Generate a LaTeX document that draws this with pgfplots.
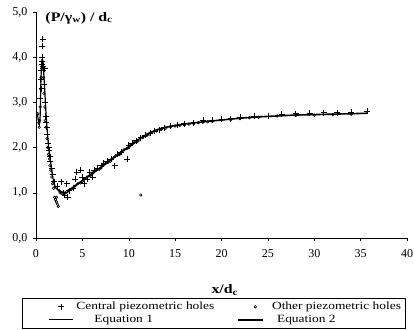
\documentclass[border=0pt]{standalone}
\usepackage{pgfplots}
\pgfplotsset{compat=1.18}
\usepackage{fontspec}
\setmainfont{Liberation Serif}
\newfontfamily\wide{Liberation Serif}[FakeStretch=1.22]

\pgfplotsset{
  legcentral/.style={legend image code/.code={\path (0pt,0pt) (48pt,0pt); \draw[##1] plot coordinates {(35pt,0pt)};}},
  legother/.style={legend image code/.code={\path (0pt,0pt) (36pt,0pt); \draw[##1] plot coordinates {(26pt,0pt)};}},
  legeqone/.style={legend image code/.code={\path (0pt,0pt) (48pt,0pt); \draw[##1] (23pt,0pt) -- (47pt,0pt);}},
  legeqtwo/.style={legend image code/.code={\path (0pt,0pt) (36pt,0pt); \draw[##1] (9pt,0pt) -- (34pt,0pt);}},
}

\pgfplotstableread{
x y
0.5 3.5
0.55 3.7
0.6 3.85
0.65 4.0
0.7 4.25
0.72 4.4
0.7 3.9
0.75 3.8
0.8 3.7
0.95 3.75
0.9 3.4
0.6 3.3
0.45 3.1
1.0 3.0
1.05 2.7
1.1 2.55
1.15 2.45
1.2 2.3
1.3 2.1
1.35 2.0
1.4 1.95
1.5 1.8
1.55 1.7
1.7 1.55
1.8 1.4
1.95 1.25
2.3 1.15
2.7 1.25
2.9 1.0
3.1 0.95
3.4 0.9
3.6 1.05
3.3 1.2
4.0 1.1
4.2 1.3
4.4 1.45
4.8 1.5
5.0 1.35
5.2 1.2
5.5 1.3
5.8 1.45
6.1 1.35
6.3 1.5
6.6 1.55
7.0 1.6
7.3 1.65
7.7 1.7
8.1 1.75
8.5 1.6
8.8 1.85
9.2 1.9
9.8 1.74
10.0 2.05
10.4 2.1
10.8 2.15
11.3 2.22
11.8 2.28
12.3 2.32
12.8 2.37
13.3 2.4
13.8 2.44
14.5 2.47
15.2 2.5
16.0 2.53
17.0 2.55
18.0 2.6
19.0 2.6
20.0 2.63
21.0 2.64
22.0 2.68
23.5 2.7
25.0 2.7
26.5 2.74
28.0 2.75
29.5 2.76
31.0 2.77
32.5 2.77
34.0 2.78
35.7 2.8
}\central

\pgfplotstableread{
x y
0.2 2.75
0.3 2.55
0.35 2.45
0.4 2.6
0.45 2.9
0.5 3.3
0.55 3.55
0.6 3.75
0.65 3.9
0.7 3.8
0.8 3.55
0.85 3.2
0.95 2.9
1.0 2.6
1.1 2.45
1.2 2.2
1.25 2.0
1.35 1.85
1.45 1.75
1.5 1.6
1.6 1.5
1.7 1.35
1.8 1.2
1.9 1.1
2.0 0.9
2.1 0.85
2.2 0.8
2.3 0.75
2.4 0.7
2.2 0.9
2.5 1.05
2.6 1.0
2.8 0.98
3.0 1.0
3.2 1.0
3.5 1.05
3.8 1.08
4.0 1.1
4.2 1.15
4.5 1.2
4.8 1.22
5.0 1.25
5.2 1.3
5.5 1.35
5.8 1.38
6.0 1.4
6.2 1.45
6.5 1.5
6.8 1.52
7.0 1.55
7.2 1.6
7.5 1.65
7.8 1.68
8.0 1.7
8.2 1.75
8.5 1.8
8.8 1.83
9.0 1.85
9.2 1.9
9.5 1.95
9.8 1.98
10.0 2.0
10.2 2.05
10.5 2.1
10.8 2.12
11.0 2.15
11.3 0.95
11.5 2.22
11.8 2.25
12 2.28
12.2 2.3
12.5 2.33
13 2.37
13.5 2.4
14 2.43
14.5 2.46
15 2.48
15.5 2.49
16 2.5
16.5 2.52
17 2.53
17.5 2.55
18 2.56
18.5 2.57
19 2.58
20 2.6
21 2.62
22 2.64
23 2.66
24 2.67
26 2.7
28 2.71
30 2.72
32 2.73
34 2.74
}\other

\pgfplotstableread{
x y
0.15 2.75
0.25 2.6
0.35 2.5
0.45 2.7
0.5 3.2
0.55 3.6
0.65 3.95
0.75 3.9
0.85 3.6
0.95 3.25
1.05 2.85
1.15 2.55
1.3 2.15
1.45 1.85
1.6 1.65
1.75 1.42
1.9 1.25
2.1 1.12
2.4 1.06
2.8 1.02
3.3 1.0
}\eqone

\pgfplotstableread{
x y
3.3 1.0
4 1.12
5 1.27
6 1.42
7 1.56
8 1.72
9 1.87
10 2.02
11 2.17
12 2.3
13 2.39
14 2.45
15 2.49
16 2.52
18 2.57
20 2.61
22 2.65
24 2.68
26 2.7
28 2.72
30 2.73
32 2.74
34 2.75
35.7 2.76
}\eqtwo

\begin{document}
\begin{tikzpicture}
\begin{axis}[
  scale only axis, width=371pt, height=226pt,
  xmin=0, xmax=40, ymin=0, ymax=5,
  clip=false,
  axis x line*=bottom, axis y line*=left,
  axis line style={-, line width=0.6pt},
  xtick={0,5,...,40}, ytick={0,1,...,5},
  tick align=outside, major tick length=3pt,
  tick style={black, line width=0.5pt},
  /pgf/number format/assume math mode=true,
  yticklabel={\pgfmathprintnumber[fixed,fixed zerofill,precision=1,use comma]{\tick}},
  ticklabel style={font=\fontsize{12}{14}\selectfont},
  xticklabel style={yshift=-5pt},
  yticklabel style={xshift=-2pt},
  legend style={at={(-0.0377,-0.2655)}, anchor=north west, draw=black,
    line width=0.5pt, inner xsep=3pt, inner ysep=2pt,
    font=\wide\fontsize{11}{13}\selectfont,
    legend columns=2, legend cell align=left},
]
\addplot[only marks, mark=+, mark size=3pt, black, line width=0.7pt, legcentral]
  table[x=x,y=y]{\central};
\addlegendentry{\makebox[150pt][l]{Central piezometric holes}}
\addplot[only marks, mark=o, mark size=1.3pt, black, line width=0.6pt, legother]
  table[x=x,y=y]{\other};
\addlegendentry{\makebox[132pt][l]{\hspace*{4pt}Other piezometric holes}}
\addplot[black, line width=1.2pt, smooth, tension=0.4, legeqone]
  table[x=x,y=y]{\eqone};
\addlegendentry{\makebox[150pt][l]{\hspace*{18pt}Equation 1}}
\addplot[black, line width=1.6pt, smooth, tension=0.4, legeqtwo]
  table[x=x,y=y]{\eqtwo};
\addlegendentry{\makebox[132pt][l]{\hspace*{9pt}Equation 2}}
\node[anchor=base west, font=\wide\bfseries\fontsize{13}{15}\selectfont]
  at (rel axis cs:0.016,0.960) {(P/γ\textsubscript{w}) / d\textsubscript{c}};
\node[font=\wide\bfseries\fontsize{13}{15}\selectfont]
  at (rel axis cs:0.509,-0.23) {x/d\textsubscript{c}};
\end{axis}
\pgfresetboundingbox
\path[use as bounding box] (-36pt,-91pt) rectangle (378pt,238pt);
\end{tikzpicture}
\end{document}
